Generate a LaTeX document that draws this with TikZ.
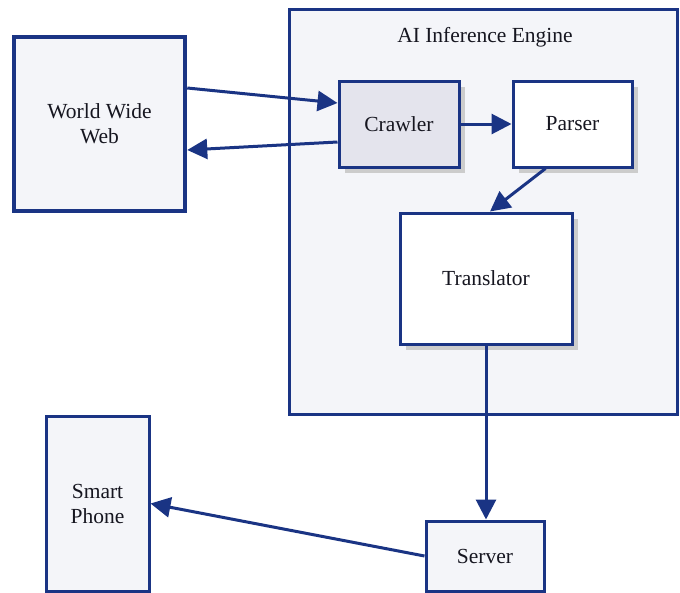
\documentclass[tikz,border=0pt]{standalone}
\usepackage{fontspec}
\setmainfont{Liberation Serif}
\usetikzlibrary{arrows.meta,shadows}
\definecolor{inkblue}{RGB}{26,52,132}
\definecolor{paper}{RGB}{244,245,249}
\definecolor{crawlfill}{RGB}{228,228,237}
\definecolor{txt}{RGB}{22,22,32}
\tikzset{
  box/.style={draw=inkblue, line width=3pt, fill=paper, rectangle, align=center,
              inner sep=0pt, text=txt, font=\fontsize{21.5}{25}\selectfont},
  shadowed/.style={drop shadow={shadow xshift=6pt, shadow yshift=-6pt, fill=black!20, opacity=1}},
  link/.style={draw=inkblue, line width=3pt, -{Triangle[length=20pt,width=20pt]}},
}
\begin{document}
\begin{tikzpicture}[x=1pt,y=-1pt]
\useasboundingbox[fill=white] (0,0) rectangle (680,592);

% engine container and its title
\node[box, minimum width=388pt, minimum height=405pt] (engine) at (483,212) {};
\node[text=txt, font=\fontsize{21.5}{25}\selectfont] (title) at (485,37) {AI Inference Engine};

% components
\node[box, line width=4.5pt, minimum width=171pt, minimum height=174pt] (www) at (99.5,124) {World Wide\\Web};
\node[box, shadowed, fill=crawlfill, minimum width=120pt, minimum height=86pt] (crawler) at (399,124) {Crawler};
\node[box, shadowed, fill=white, minimum width=119pt, minimum height=86pt] (parser) at (572.5,124) {Parser};
\node[box, shadowed, fill=white, minimum width=172pt, minimum height=131pt] (translator) at (486,278.5) {Translator};
\node[box, minimum width=103pt, minimum height=175pt] (phone) at (97.5,503.5) {Smart\\Phone};
\node[box, minimum width=118pt, minimum height=70pt] (server) at (485,556) {Server};

% connectors
\draw[link] ([yshift=36pt]www.east) -- ([yshift=21pt]crawler.west);
\draw[link] ([yshift=-18pt]crawler.west) -- ([yshift=-26pt]www.east);
\draw[link] (crawler.east) -- (parser.west);
\draw[link] ([xshift=-27pt]parser.south) -- ([xshift=4pt]translator.north);
\draw[link] (translator.south) -- (translator.south |- server.north);
\draw[link] (server.west) -- (phone.east);
\end{tikzpicture}
\end{document}
